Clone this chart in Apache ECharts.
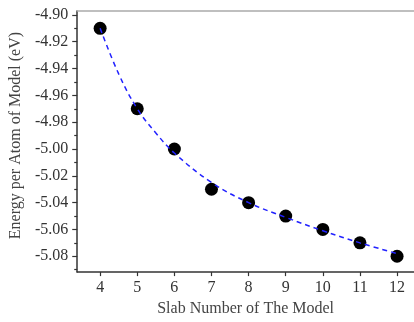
<!DOCTYPE html>
<html>
<head>
<meta charset="utf-8">
<script src="https://cdn.jsdelivr.net/npm/echarts@6/dist/echarts.min.js"></script>
<style>html,body{margin:0;padding:0;background:#fff;}#c{width:414px;height:322px;}</style>
</head>
<body>
<div id="c"></div>
<script>
var slabNumbers = [4, 5, 6, 7, 8, 9, 10, 11, 12];
var energies = [-4.910, -4.970, -5.000, -5.030, -5.040, -5.050, -5.060, -5.070, -5.080];
var fitX = [4, 4.5, 5, 5.5, 6, 7, 8, 9, 10, 11, 12];
var fitY = [-4.910, -4.944, -4.970, -4.988, -5.003, -5.025, -5.040, -5.051, -5.061, -5.070, -5.078];
var xTicks = [4, 5, 6, 7, 8, 9, 10, 11, 12];
var yTicks = [-4.90, -4.92, -4.94, -4.96, -4.98, -5.00, -5.02, -5.04, -5.06, -5.08];
var yMinorTicks = [-4.91, -4.93, -4.95, -4.97, -4.99, -5.01, -5.03, -5.05, -5.07, -5.09];

var font = '"Liberation Serif", "Times New Roman", serif';
var chart = echarts.init(document.getElementById('c'));
var yMin = -5.0918, yMax = -4.8971;
var xMin = 3.383, xMax = 12.456;
chart.setOption({
  animation: false,
  grid: { left: 76, top: 11, right: 0, bottom: 46 },
  xAxis: [{
    type: 'value', min: xMin, max: xMax, position: 'bottom',
    name: 'Slab Number of The Model', nameLocation: 'middle', nameGap: 27,
    nameTextStyle: { fontFamily: font, fontSize: 16, color: '#444' },
    axisLine: { lineStyle: { color: '#333', width: 1.5 } },
    axisTick: { show: true, length: 4, inside: false, customValues: xTicks, lineStyle: { color: '#333', width: 1.2 } },
    axisLabel: { customValues: xTicks, fontFamily: font, fontSize: 16, color: '#333', margin: 8 },
    splitLine: { show: false }
  }, {
    type: 'value', min: xMin, max: xMax, position: 'top',
    axisLine: { show: true, onZero: false, lineStyle: { color: '#aaa', width: 1.5 } },
    axisTick: { show: false }, axisLabel: { show: false }, splitLine: { show: false }
  }],
  yAxis: [{
    type: 'value', min: yMin, max: yMax, position: 'left',
    name: 'Energy per Atom of Model (eV)', nameLocation: 'middle', nameGap: 51,
    nameTextStyle: { fontFamily: font, fontSize: 16, color: '#444', padding: [0, 0, 0, 12] },
    axisLine: { show: true, onZero: false, lineStyle: { color: '#333', width: 1.5 } },
    axisTick: { show: true, length: 5, customValues: yTicks, lineStyle: { color: '#333', width: 1.2 } },
    axisLabel: { customValues: yTicks, fontFamily: font, fontSize: 16, color: '#333', margin: 9,
      formatter: function (v) { return v.toFixed(2); } },
    splitLine: { show: false }
  }, {
    type: 'value', min: yMin, max: yMax, position: 'left',
    axisLine: { show: false },
    axisTick: { show: true, length: 3, customValues: yMinorTicks, lineStyle: { color: '#333', width: 1.2 } },
    axisLabel: { show: false }, splitLine: { show: false }
  }],
  series: [{
    type: 'scatter', xAxisIndex: 0, yAxisIndex: 0,
    data: slabNumbers.map(function (x, i) { return [x, energies[i]]; }),
    symbol: 'circle', symbolSize: 13,
    itemStyle: { color: '#000', opacity: 1 }, z: 2
  }, {
    type: 'line', xAxisIndex: 0, yAxisIndex: 0,
    data: fitX.map(function (x, i) { return [x, fitY[i]]; }),
    smooth: 0.4, showSymbol: false, symbol: 'none',
    lineStyle: { color: '#2222ff', width: 1.5, type: [5, 4] }, z: 3
  }]
});
</script>
</body>
</html>
